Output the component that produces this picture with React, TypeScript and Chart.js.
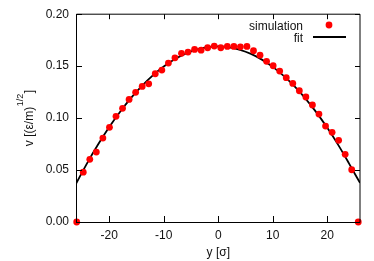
import React, { useEffect, useRef } from "react";
import { Chart, registerables } from "chart.js";

Chart.register(...registerables);

const simX = [
  -25.97, -24.77, -23.57, -22.37, -21.17, -19.96, -18.76, -17.56, -16.36, -15.16, -13.96,
  -12.76, -11.56, -10.35, -9.15, -7.95, -6.75, -5.55, -4.35, -3.15, -1.95, -0.74, 0.46, 1.66,
  2.86, 4.06, 5.26, 6.46, 7.66, 8.86, 10.07, 11.27, 12.47, 13.67, 14.87, 16.07, 17.27, 18.47,
  19.68, 20.88, 22.08, 23.28, 24.48, 25.68,
];
const simY = [
  0, 0.048, 0.0603, 0.0673, 0.0808, 0.0911, 0.1017, 0.1094, 0.118, 0.1248, 0.1305, 0.133,
  0.1427, 0.1462, 0.153, 0.158, 0.1623, 0.1635, 0.1661, 0.1654, 0.1677, 0.1693, 0.1677, 0.169,
  0.169, 0.1686, 0.169, 0.1648, 0.1606, 0.1546, 0.1504, 0.1453, 0.1389, 0.1334, 0.1263, 0.1203,
  0.1126, 0.1039, 0.0923, 0.0863, 0.0786, 0.0651, 0.0503, 0,
];
const fitX = [
  -26.1, -24, -22, -20, -18, -16, -14, -12, -10, -8, -6, -4, -2, 0, 2, 4, 6, 8, 10, 12, 14, 16,
  18, 20, 22, 24, 26,
];
const fitY = [
  0.0368, 0.0572, 0.0750, 0.0914, 0.1061, 0.1194, 0.1310, 0.1411, 0.1496, 0.1566, 0.1620, 0.1659,
  0.1682, 0.1690, 0.1681, 0.1657, 0.1618, 0.1563, 0.1493, 0.1406, 0.1305, 0.1188, 0.1055, 0.0906,
  0.0742, 0.0562, 0.0376,
];
const xTicks = [-20, -10, 0, 10, 20];
const yTicks = [0, 0.05, 0.1, 0.15, 0.2];
const xRange = [-26.1, 26.0];
const yRange = [0, 0.2];
const legendLabels = ["simulation", "fit"];
const xTitle = "y [σ]";
const yTitleMain = "v [(ε/m)";
const yTitleSup = "1/2";
const yTitleEnd = "]";

const FONT = '"Liberation Sans", Arial, Helvetica, sans-serif';

const framePlugin = {
  id: "framePlugin",
  afterDraw(chart: any) {
    const { ctx, chartArea } = chart;
    const { left, right, top, bottom } = chartArea;
    const xs = chart.scales.x;
    const ys = chart.scales.y;
    ctx.save();
    ctx.strokeStyle = "#000";
    ctx.lineWidth = 1;
    ctx.beginPath();
    ctx.moveTo(left + 0.5, top);
    ctx.lineTo(left + 0.5, bottom + 0.5);
    ctx.lineTo(right, bottom + 0.5);
    ctx.lineTo(right, top);
    ctx.lineTo(left + 0.5, top);
    ctx.stroke();
    const tl = 6;
    ctx.beginPath();
    xTicks.forEach((v) => {
      const px = Math.round(xs.getPixelForValue(v)) + 0.5;
      ctx.moveTo(px, bottom);
      ctx.lineTo(px, bottom - tl);
      ctx.moveTo(px, top);
      ctx.lineTo(px, top + tl - 1);
    });
    yTicks.forEach((v) => {
      const py = Math.round(ys.getPixelForValue(v)) + 0.5;
      ctx.moveTo(left, py);
      ctx.lineTo(left + tl, py);
      ctx.moveTo(right, py);
      ctx.lineTo(right - tl + 1, py);
    });
    ctx.stroke();

    // legend
    ctx.fillStyle = "#111";
    ctx.font = `12px ${FONT}`;
    ctx.textAlign = "right";
    ctx.textBaseline = "alphabetic";
    ctx.fillText(legendLabels[0], 303, 30);
    ctx.fillText(legendLabels[1], 303, 42);
    ctx.fillStyle = "#ff0000";
    ctx.beginPath();
    ctx.arc(329, 25, 3.4, 0, Math.PI * 2);
    ctx.fill();
    ctx.strokeStyle = "#000";
    ctx.lineWidth = 1.8;
    ctx.beginPath();
    ctx.moveTo(313, 37);
    ctx.lineTo(346, 37);
    ctx.stroke();

    // x title
    ctx.fillStyle = "#111";
    ctx.textAlign = "center";
    ctx.font = `12px ${FONT}`;
    ctx.fillText(xTitle, xs.getPixelForValue(0), 256);

    // y title (rotated with superscript)
    const cy = (top + bottom) / 2;
    ctx.save();
    ctx.translate(32.5, cy);
    ctx.rotate(-Math.PI / 2);
    ctx.textAlign = "left";
    ctx.font = `12px ${FONT}`;
    const w1 = ctx.measureText(yTitleMain).width;
    const w3 = ctx.measureText(yTitleEnd).width;
    ctx.font = `9px ${FONT}`;
    const w2 = ctx.measureText(yTitleSup).width;
    const total = w1 + w2 + w3 + 1;
    let x0 = -total / 2;
    ctx.font = `12px ${FONT}`;
    ctx.fillText(yTitleMain, x0, 0);
    x0 += w1;
    ctx.font = `9px ${FONT}`;
    ctx.fillText(yTitleSup, x0 + 0.5, -10);
    x0 += w2 + 1;
    ctx.font = `12px ${FONT}`;
    ctx.fillText(yTitleEnd, x0, 0);
    ctx.restore();

    ctx.restore();
  },
};

export default function App() {
  const ref = useRef<HTMLCanvasElement | null>(null);
  useEffect(() => {
    document.body.style.margin = "0";
    const canvas = ref.current;
    if (!canvas) return;
    Chart.defaults.font.family = FONT;
    const chart = new Chart(canvas, {
      type: "scatter",
      data: {
        datasets: [
          {
            label: legendLabels[0],
            data: simX.map((x, i) => ({ x, y: simY[i] })),
            backgroundColor: "#ff0000",
            borderColor: "#ff0000",
            pointRadius: 3.4,
            pointBorderWidth: 0,
            showLine: false,
            clip: false as any,
          },
          {
            label: legendLabels[1],
            data: fitX.map((x, i) => ({ x, y: fitY[i] })),
            borderColor: "#000",
            backgroundColor: "#000",
            borderWidth: 1.8,
            pointRadius: 0,
            showLine: true,
            tension: 0.4,
            cubicInterpolationMode: "monotone",
          },
        ],
      },
      options: {
        responsive: false,
        animation: false,
        events: [],
        layout: { padding: { left: 0, right: 14, top: 14, bottom: 0 } },
        plugins: { legend: { display: false }, tooltip: { enabled: false } },
        scales: {
          x: {
            type: "linear",
            min: xRange[0],
            max: xRange[1],
            grid: { display: false, drawTicks: false },
            border: { display: false },
            afterBuildTicks: (s: any) => {
              s.ticks = xTicks.map((v) => ({ value: v }));
            },
            afterFit: (s: any) => {
              s.height = 39;
            },
            ticks: {
              padding: 6,
              color: "#111",
              font: { size: 12, family: FONT },
              maxRotation: 0,
              callback: (v: any) => String(v),
            },
          },
          y: {
            type: "linear",
            min: yRange[0],
            max: yRange[1],
            grid: { display: false, drawTicks: false },
            border: { display: false },
            afterBuildTicks: (s: any) => {
              s.ticks = yTicks.map((v) => ({ value: v }));
            },
            afterFit: (s: any) => {
              s.width = 76;
            },
            ticks: {
              padding: 7,
              color: "#111",
              font: { size: 12, family: FONT },
              callback: (v: any) => Number(v).toFixed(2),
            },
          },
        },
      },
      plugins: [framePlugin],
    });
    return () => chart.destroy();
  }, []);
  return (
    <div style={{ position: "fixed", left: 0, top: 0, width: 374, height: 261, background: "#fff" }}>
      <canvas ref={ref} width={374} height={261} style={{ width: 374, height: 261 }} />
    </div>
  );
}
